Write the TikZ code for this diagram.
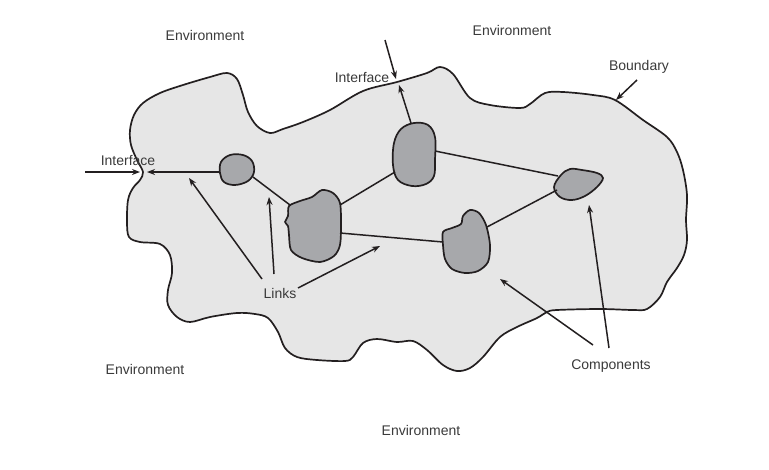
\documentclass[tikz,border=0pt]{standalone}
\usepackage{fontspec}
\setmainfont{Liberation Sans}
\usetikzlibrary{arrows.meta}
\definecolor{blobfill}{HTML}{E6E6E6}
\definecolor{compfill}{HTML}{A7A8AB}
\definecolor{inkc}{HTML}{231F20}
\definecolor{txtc}{HTML}{3A3A3A}
\begin{document}
\begin{tikzpicture}[x=1pt,y=-1pt,
  outline/.style={draw=inkc,line width=1.7pt,line join=round},
  comp/.style={outline,fill=compfill},
  linkline/.style={draw=inkc,line width=1.5pt},
  tip/.style={-{Stealth[length=8pt,width=6pt]}},
  lab/.style={text=txtc,font=\fontsize{14}{16}\selectfont,inner sep=0pt}]
\useasboundingbox (0,0) rectangle (769,469);
% boundary
\path[outline,fill=blobfill] plot[smooth cycle,tension=0.55] coordinates {
(143,172) (137,160) (131,145) (130,130) (134,115) (143,103) (160,93) (183,85)
(210,77) (227,73) (237,79) (243,95) (248,112) (257,126) (270,133) (283,129)
(303,122) (330,110) (363,91) (397,82) (427,73) (440,67) (453,74) (470,98)
(490,105) (520,108) (530,104) (545,93) (563,92) (593,95) (615,100) (643,120)
(667,137) (677,152) (683,170) (687,195) (686,220) (687,240) (684,255) (677,268)
(667,282) (660,297) (647,309) (633,310) (600,309) (557,310) (547,312) (537,318)
(517,327) (500,337) (483,357) (470,368) (457,371) (443,365) (427,350) (413,341)
(397,342) (377,339) (363,343) (353,357) (345,361) (317,360) (297,357) (285,348)
(278,332) (268,318) (255,314) (237,313) (210,317) (190,322) (177,317) (168,305)
(168,290) (172,273) (170,255) (160,244) (140,242) (129,237) (127,222) (128,200)
(133,188) (140,180)};
% components
\path[comp] plot[smooth cycle,tension=0.6] coordinates {
(221,162) (230,155) (243,155) (252,161) (254,172) (248,181) (235,185) (224,182) (220,173)};
\path[comp] plot[smooth cycle,tension=0.5] coordinates {
(289,206) (300,201) (312,197) (322,190) (333,193) (340,203) (341,225) (340,245)
(334,256) (320,262) (302,258) (291,250) (289,235) (288,226) (285,222) (288,216)};
\path[comp] plot[smooth cycle,tension=0.6] coordinates {
(394,143) (401,129) (414,123) (428,125) (435,137) (435,160) (434,176) (426,184)
(412,186) (398,180) (393,165)};
\path[comp] plot[smooth cycle,tension=0.5] coordinates {
(443,232) (452,228) (461,224) (463,216) (470,210) (479,213) (486,225) (490,245)
(488,262) (478,271) (465,273) (452,269) (445,259) (443,245)};
\path[comp] plot[smooth cycle,tension=0.6] coordinates {
(554,187) (561,175) (570,169) (582,170) (597,173) (603,178) (597,187) (585,196)
(572,200) (560,197)};
% connection points
\coordinate (c1w) at (220,172);
\coordinate (c1se) at (253,177);
\coordinate (c2nw) at (290,205);
\coordinate (c2ne) at (340,205);
\coordinate (c2e) at (340,233);
\coordinate (c3n) at (411,123);
\coordinate (c3e) at (435,151);
\coordinate (c3sw) at (395,172);
\coordinate (c4w) at (443,242);
\coordinate (c4ne) at (487,227);
\coordinate (c5w) at (558,176);
\coordinate (c5sw) at (557,190);
\coordinate (ifl) at (147,172);
\coordinate (iflo) at (140,172);
\coordinate (iflstart) at (85,172);
\coordinate (ift) at (399,85);
\coordinate (ifto) at (396,79);
\coordinate (iftstart) at (385,40);
% links
\draw[linkline] (c1se) -- (c2nw);
\draw[linkline] (c2ne) -- (c3sw);
\draw[linkline] (c2e) -- (c4w);
\draw[linkline] (c3e) -- (c5w);
\draw[linkline] (c4ne) -- (c5sw);
\draw[linkline,tip] (c1w) -- (ifl);
\draw[linkline,tip] (iflstart) -- (iflo);
\draw[linkline,tip] (c3n) -- (ift);
\draw[linkline,tip] (iftstart) -- (ifto);
% labels
\node[lab] (env1) at (205,35) {Environment};
\node[lab] (env2) at (512,30) {Environment};
\node[lab] (env3) at (145,369) {Environment};
\node[lab] (env4) at (421,430) {Environment};
\node[lab] (iftop) at (362,78) {Interface};
\node[lab] (ifleft) at (128,160) {Interface};
\node[lab] (bnd) at (639,67) {Boundary};
\node[lab] (links) at (280,293) {Links};
\node[lab] (comps) at (611,366) {Components};
% label pointers
\coordinate (bndtail) at (637,80);
\coordinate (bndtip) at (616,100);
\draw[linkline,tip] (bndtail) -- (bndtip);
\coordinate (l1s) at (262,279);
\coordinate (l1e) at (189,178);
\coordinate (l2s) at (274,274);
\coordinate (l2e) at (269,197);
\coordinate (l3s) at (298,288);
\coordinate (l3e) at (380,246);
\draw[linkline,tip] (l1s) -- (l1e);
\draw[linkline,tip] (l2s) -- (l2e);
\draw[linkline,tip] (l3s) -- (l3e);
\coordinate (k1s) at (593,345);
\coordinate (k1e) at (500,279);
\coordinate (k2s) at (609,348);
\coordinate (k2e) at (589,205);
\draw[linkline,tip] (k1s) -- (k1e);
\draw[linkline,tip] (k2s) -- (k2e);
\end{tikzpicture}
\end{document}
